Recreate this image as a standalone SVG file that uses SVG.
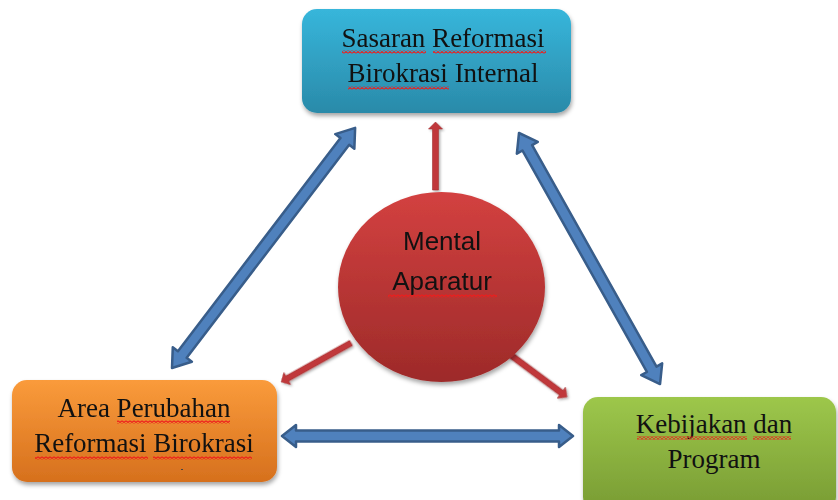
<svg xmlns="http://www.w3.org/2000/svg" width="838" height="500" viewBox="0 0 838 500">
  <style>
    .lbl { font-family: "Liberation Serif", "Times New Roman", serif; font-size: 27px; fill: #111; text-anchor: middle; }
    .clbl { font-family: "Liberation Sans", Arial, sans-serif; font-size: 26px; fill: #111; text-anchor: middle; }
    .blue { fill: #4f81bd; stroke: #385d8a; stroke-width: 2.5; stroke-linejoin: round; }
    .red { fill: #c0393b; stroke: #a33032; stroke-width: 0.6; }
    .wavy { fill: url(#wavy); }
  </style>
  <defs>
    <linearGradient id="gBlue" x1="0" y1="0" x2="0" y2="1">
      <stop offset="0" stop-color="#37b6db"/>
      <stop offset="1" stop-color="#2a8aa9"/>
    </linearGradient>
    <linearGradient id="gOrange" x1="0" y1="0" x2="0" y2="1">
      <stop offset="0" stop-color="#fa9b3b"/>
      <stop offset="1" stop-color="#d6701d"/>
    </linearGradient>
    <linearGradient id="gGreen" x1="0" y1="0" x2="0" y2="1">
      <stop offset="0" stop-color="#9dc74b"/>
      <stop offset="1" stop-color="#789b33"/>
    </linearGradient>
    <linearGradient id="gRed" x1="0" y1="0" x2="0" y2="1">
      <stop offset="0" stop-color="#d34140"/>
      <stop offset="1" stop-color="#9d2a29"/>
    </linearGradient>
    <pattern id="wavy" width="4" height="3" patternUnits="userSpaceOnUse">
      <path d="M-1 1.5 L0 2.5 L2 0.5 L4 2.5 L5 1.5" fill="none" stroke="#ee1c1c" stroke-width="1.1"/>
    </pattern>
    <filter id="shadow" x="-10%" y="-10%" width="120%" height="130%">
      <feDropShadow dx="1" dy="3" stdDeviation="2" flood-color="#000" flood-opacity="0.35"/>
    </filter>
    <filter id="ashadow" x="-20%" y="-50%" width="140%" height="200%">
      <feDropShadow dx="1.5" dy="1.5" stdDeviation="1" flood-color="#000" flood-opacity="0.3"/>
    </filter>
  </defs>

  <g id="connectors">
    <polygon class="blue" transform="translate(172,368) rotate(-52.67)" points="0,0 17,-12 17,-5.5 285,-5.5 285,-12 302,0 285,12 285,5.5 17,5.5 17,12"/>
    <polygon class="blue" transform="translate(519,133) rotate(60.68)" points="0,0 17,-12 17,-5.5 271,-5.5 271,-12 288,0 271,12 271,5.5 17,5.5 17,12"/>
    <polygon class="blue" transform="translate(282,436)" points="0,0 14,-11 14,-5.5 277,-5.5 277,-11 291,0 277,11 277,5.5 14,5.5 14,11"/>
    <g filter="url(#ashadow)">
      <polygon class="red" transform="translate(435.5,190) rotate(-90)" points="0,-3 61,-3 61,-7 68,0 61,7 61,3 0,3"/>
      <polygon class="red" transform="translate(351,343) rotate(150.87)" points="0,-3 73,-3 73,-7 80,0 73,7 73,3 0,3"/>
      <polygon class="red" transform="translate(508,353) rotate(36.71)" points="0,-3 66.6,-3 66.6,-7 73.6,0 66.6,7 66.6,3 0,3"/>
    </g>
  </g>

  <g id="node-sasaran">
    <rect x="302" y="9" width="269" height="104" rx="15" fill="url(#gBlue)" filter="url(#shadow)"/>
    <text class="lbl" x="443" y="47">Sasaran Reformasi</text>
    <text class="lbl" x="443" y="82">Birokrasi Internal</text>
    <rect class="wavy" x="342" y="50.5" width="84" height="3"/>
    <rect class="wavy" x="433" y="50.5" width="113" height="3"/>
    <rect class="wavy" x="348" y="86.5" width="101" height="3"/>
  </g>

  <g id="node-area">
    <rect x="12" y="380" width="265" height="102" rx="15" fill="url(#gOrange)" filter="url(#shadow)"/>
    <text class="lbl" x="144" y="417">Area Perubahan</text>
    <text class="lbl" x="144" y="452">Reformasi Birokrasi</text>
    <rect class="wavy" x="117" y="420.5" width="113" height="3"/>
    <rect class="wavy" x="35" y="456.5" width="113" height="3"/>
    <rect class="wavy" x="153" y="456.5" width="99" height="3"/>
    <rect x="181" y="469" width="2" height="1" fill="#444"/>
  </g>

  <g id="node-kebijakan">
    <rect x="583" y="397" width="253" height="115" rx="15" fill="url(#gGreen)" filter="url(#shadow)"/>
    <text class="lbl" x="714" y="433">Kebijakan dan</text>
    <text class="lbl" x="714" y="468">Program</text>
    <rect class="wavy" x="637" y="436.5" width="110" height="3"/>
    <rect class="wavy" x="753" y="436.5" width="38" height="3"/>
  </g>

  <g id="node-mental">
    <ellipse cx="441.5" cy="287" rx="103.5" ry="95" fill="url(#gRed)" filter="url(#shadow)"/>
    <text class="clbl" x="442" y="250">Mental</text>
    <text class="clbl" x="442" y="290">Aparatur</text>
    <rect class="wavy" x="388" y="294.5" width="109" height="3"/>
  </g>
</svg>
